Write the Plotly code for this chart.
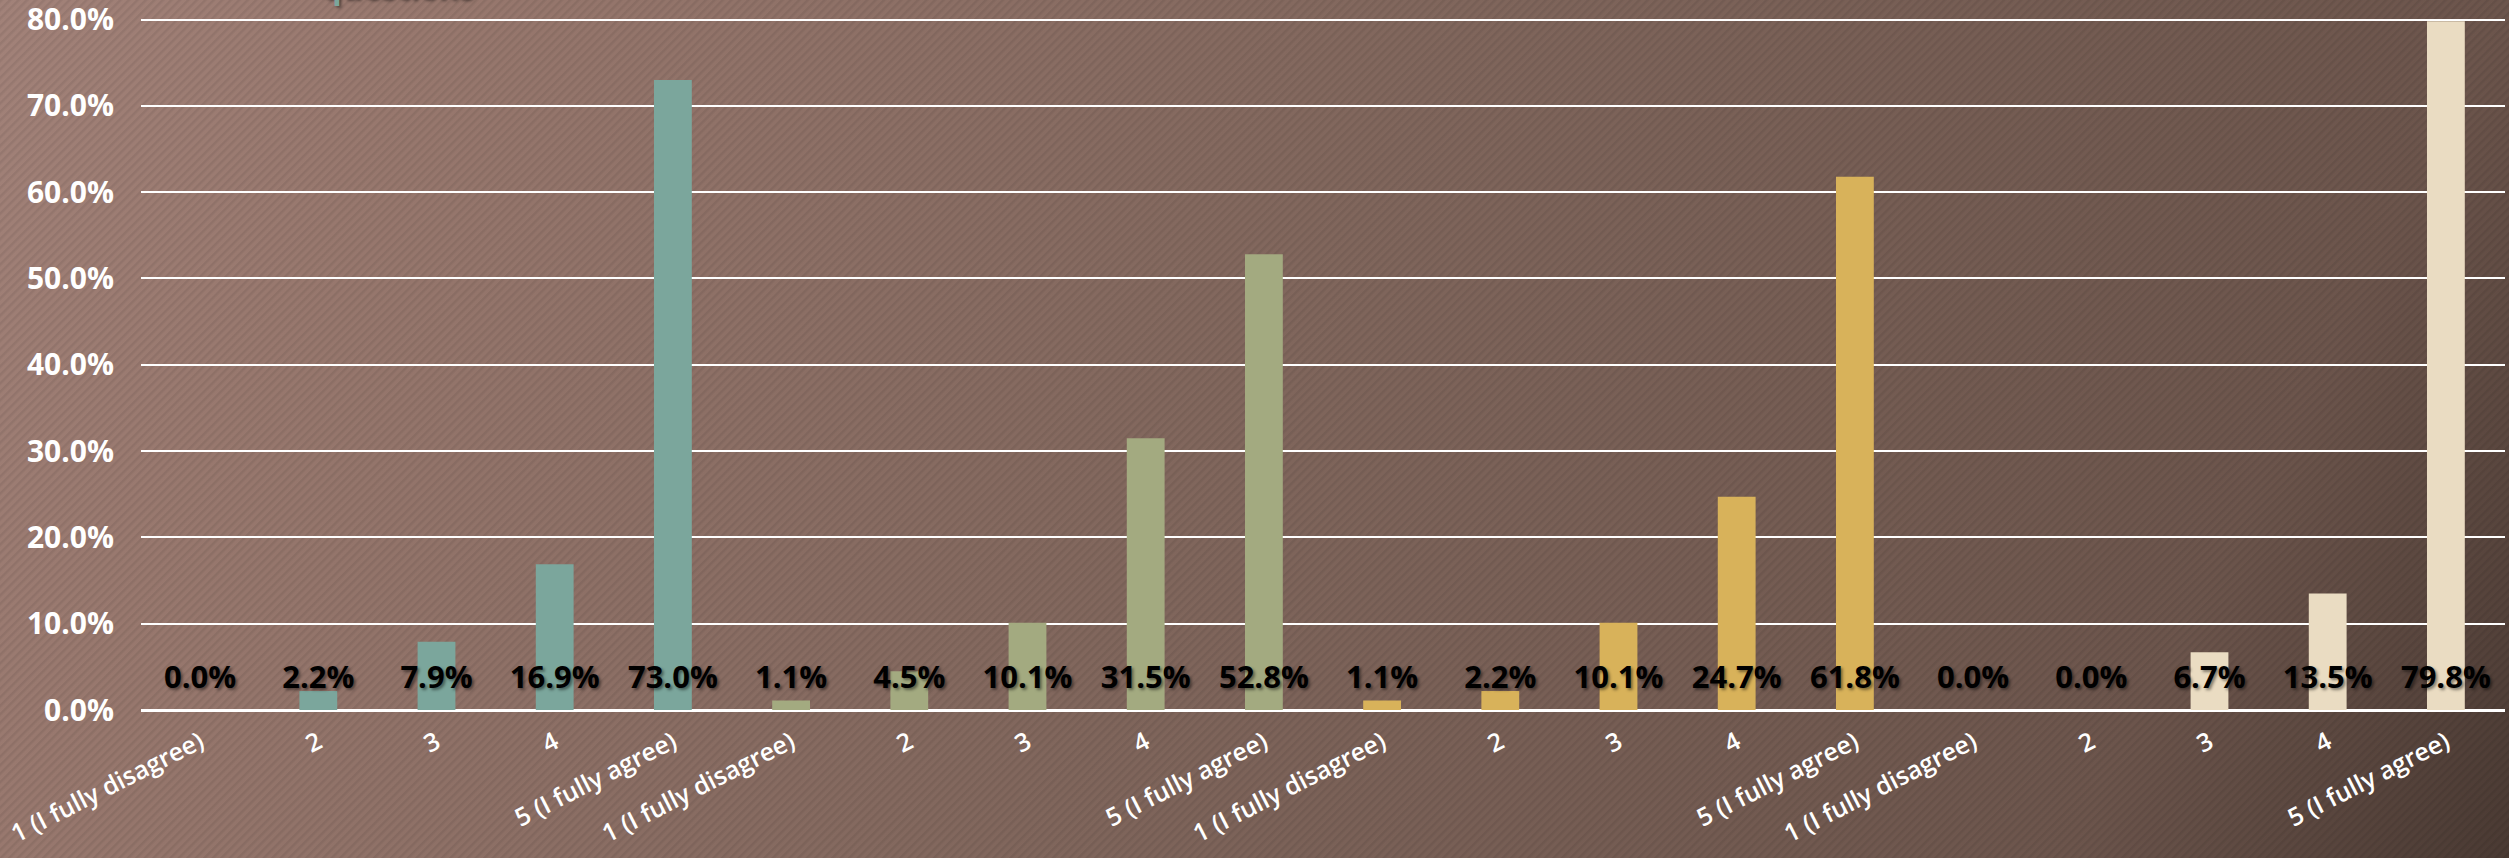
import base64
import plotly.graph_objects as go

# ---- data ----
rating_labels = ["1 (I fully disagree)", "2", "3", "4", "5 (I fully agree)"]
q1_pct = [0.0, 2.2, 7.9, 16.9, 73.0]
q2_pct = [1.1, 4.5, 10.1, 31.5, 52.8]
q3_pct = [1.1, 2.2, 10.1, 24.7, 61.8]
q4_pct = [0.0, 0.0, 6.7, 13.5, 79.8]
title_fragment = "questions"

# ---- style ----
W, H = 2509, 858
ML, MR, MT, MB = 141, 4, 17, 148
PW, PH = W - ML - MR, H - MT - MB
Y_TOP = 80.3
bar_colors = ["#7BA69C", "#A3AA80", "#D8B25A", "#EADCC2"]
LABEL_Y = 3.5
FONT = "Open Sans"

groups = [q1_pct, q2_pct, q3_pct, q4_pct]
n_per = len(rating_labels)
positions = list(range(n_per * len(groups)))
tick_text = rating_labels * len(groups)
all_vals = [v for g in groups for v in g]

# background: diagonal gradient with fine diagonal stripes
svg = f'''<svg xmlns="http://www.w3.org/2000/svg" width="{W}" height="{H}" viewBox="0 0 {W} {H}">
<defs>
<linearGradient id="g" gradientUnits="userSpaceOnUse" x1="0" y1="0" x2="2330" y2="1203">
<stop offset="0" stop-color="#A28279"/>
<stop offset="0.15" stop-color="#98786E"/>
<stop offset="0.5" stop-color="#80665C"/>
<stop offset="0.85" stop-color="#6C554C"/>
<stop offset="1" stop-color="#4A3A33"/>
</linearGradient>
<pattern id="p" width="6" height="6" patternUnits="userSpaceOnUse" patternTransform="rotate(45)">
<rect width="2.5" height="6" fill="#000000" fill-opacity="0.07"/>
</pattern>
</defs>
<rect width="{W}" height="{H}" fill="url(#g)"/>
<rect width="{W}" height="{H}" fill="url(#p)"/>
</svg>'''
bg_uri = "data:image/svg+xml;base64," + base64.b64encode(svg.encode()).decode()

fig = go.Figure()
for gi, (vals, col) in enumerate(zip(groups, bar_colors)):
    xs = positions[gi * n_per:(gi + 1) * n_per]
    fig.add_trace(go.Bar(
        x=xs, y=vals, width=0.32,
        marker=dict(color=col, line=dict(width=0)),
        showlegend=False,
        hovertext=rating_labels, hoverinfo="text+y",
    ))

fig.add_trace(go.Scatter(
    x=positions, y=[LABEL_Y] * len(positions), mode="text",
    text=[f"{v:.1f}%" for v in all_vals],
    textposition="middle center",
    textfont=dict(family=FONT, size=31, color="black", weight="bold",
                  shadow="2px 2px 3px rgba(0,0,0,0.45)"),
    showlegend=False, hoverinfo="skip", cliponaxis=False,
))

fig.add_annotation(
    text=title_fragment, xref="paper", yref="paper",
    x=(320 - ML) / PW, y=1, xanchor="left", yanchor="bottom", yshift=7,
    showarrow=False,
    font=dict(family=FONT, size=31, color="#7BA69C", weight="bold",
              shadow="2px 2px 3px rgba(0,0,0,0.45)"),
)

fig.add_layout_image(
    source=bg_uri, xref="paper", yref="paper",
    x=-ML / PW, y=1 + MT / PH, sizex=W / PW, sizey=H / PH,
    xanchor="left", yanchor="top", sizing="stretch", layer="below",
)

fig.update_layout(
    width=W, height=H,
    margin=dict(l=ML, r=MR, t=MT, b=MB, pad=0, autoexpand=False),
    paper_bgcolor="rgba(0,0,0,0)", plot_bgcolor="rgba(0,0,0,0)",
    barmode="overlay",
    font=dict(family=FONT, color="white"),
    xaxis=dict(
        range=[-0.5, len(positions) - 0.5], automargin=False,
        tickmode="array", tickvals=positions, ticktext=tick_text,
        tickangle=-27,
        tickfont=dict(family=FONT, size=25, color="white", weight=600),
        showgrid=False, zeroline=False, showline=False, ticks="", ticklen=0,
        ticklabelstandoff=12, ticklabeloverflow="allow",
    ),
    yaxis=dict(
        range=[0, Y_TOP], tick0=0, dtick=10, tickformat=".1f", ticksuffix="%",
        automargin=False,
        tickfont=dict(family=FONT, size=30, color="white", weight="bold"),
        showgrid=True, gridcolor="white", gridwidth=2,
        zeroline=True, zerolinecolor="white", zerolinewidth=3,
        showline=False, ticks="", ticklen=0, ticklabelstandoff=26,
        ticklabeloverflow="allow",
    ),
)

fig.write_html(
    "out.html",
    config={"displayModeBar": False},
    post_script="document.body.style.margin='0';document.body.style.overflow='hidden';",
)
